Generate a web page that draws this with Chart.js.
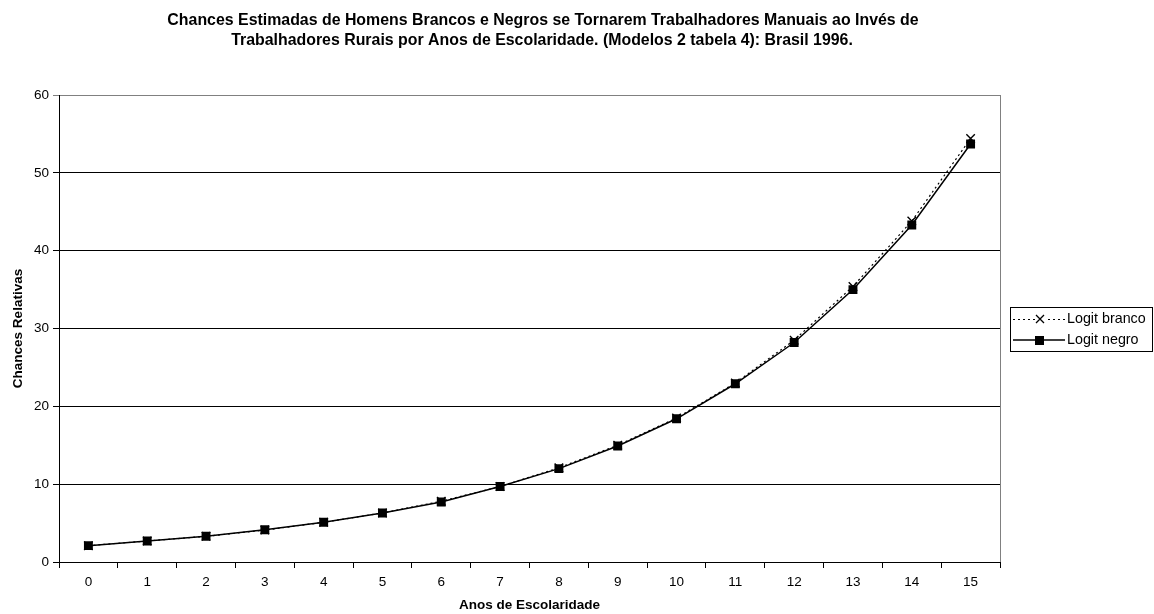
<!DOCTYPE html>
<html>
<head>
<meta charset="utf-8">
<script src="https://cdn.jsdelivr.net/npm/chart.js@4/dist/chart.umd.min.js"></script>
<style>
  html, body { margin: 0; padding: 0; background: #fff; }
  #wrap { width: 1154px; height: 614px; }
</style>
</head>
<body>
<div id="wrap"><canvas id="chart1" width="1154" height="614"></canvas></div>
<script>
// data
var anos = ['0','1','2','3','4','5','6','7','8','9','10','11','12','13','14','15'];
var logitBranco = [2.1, 2.7, 3.3, 4.1, 5.1, 6.3, 7.8, 9.7, 12.1, 15.0, 18.5, 23.0, 28.5, 35.4, 43.8, 54.4];
var logitNegro  = [2.1, 2.7, 3.3, 4.15, 5.1, 6.3, 7.7, 9.7, 12.0, 14.9, 18.4, 22.9, 28.2, 35.0, 43.3, 53.7];
var titulo = ['Chances Estimadas de Homens Brancos e Negros se Tornarem Trabalhadores Manuais ao Invés de',
              'Trabalhadores Rurais por Anos de Escolaridade. (Modelos 2 tabela 4): Brasil 1996.'];
var fonte = "'Liberation Sans', Arial, sans-serif";

Chart.defaults.font.family = fonte;
Chart.defaults.color = '#000';

// title, right border of plot area and boxed legend
var extras = {
    id: 'extras',
    afterDraw: function(chart) {
        var ctx = chart.ctx;
        var a = chart.chartArea;
        ctx.save();
        ctx.strokeStyle = '#808080';
        ctx.lineWidth = 1;
        ctx.beginPath();
        ctx.moveTo(Math.round(a.right) + 0.5, a.top);
        ctx.lineTo(Math.round(a.right) + 0.5, a.bottom);
        ctx.stroke();

        ctx.fillStyle = '#000';
        ctx.font = 'bold 15.9px ' + fonte;
        ctx.textAlign = 'center';
        ctx.textBaseline = 'middle';
        ctx.fillText(titulo[0], 543, 21);
        ctx.fillText(titulo[1], 542, 41);

        // legend
        ctx.strokeStyle = '#000';
        ctx.strokeRect(1010.5, 307.5, 142, 44);
        ctx.font = '14.3px ' + fonte;
        ctx.textAlign = 'left';
        var y1 = 319, y2 = 340;
        ctx.setLineDash([2, 3]);
        ctx.beginPath();
        ctx.moveTo(1013, y1 + 0.5); ctx.lineTo(1065, y1 + 0.5);
        ctx.stroke();
        ctx.setLineDash([]);
        ctx.fillStyle = '#fff';
        ctx.fillRect(1035, y1 - 5, 10, 10);
        ctx.lineWidth = 1.3;
        ctx.beginPath();
        ctx.moveTo(1036, y1 - 4); ctx.lineTo(1044, y1 + 4);
        ctx.moveTo(1044, y1 - 4); ctx.lineTo(1036, y1 + 4);
        ctx.stroke();
        ctx.lineWidth = 1.5;
        ctx.beginPath();
        ctx.moveTo(1013, y2); ctx.lineTo(1065, y2);
        ctx.stroke();
        ctx.fillStyle = '#000';
        ctx.fillRect(1035, y2 - 4, 9, 9);
        ctx.fillText('Logit branco', 1067, y1);
        ctx.fillText('Logit negro', 1067, y2);
        ctx.restore();
    }
};

new Chart(document.getElementById('chart1'), {
    type: 'line',
    data: {
        labels: anos,
        datasets: [{
            label: 'Logit branco',
            data: logitBranco,
            borderColor: '#000',
            backgroundColor: '#000',
            borderWidth: 1.2,
            borderDash: [2, 3],
            pointStyle: 'crossRot',
            pointRadius: 6,
            pointBorderWidth: 1.4,
            tension: 0,
            fill: false
        }, {
            label: 'Logit negro',
            data: logitNegro,
            borderColor: '#000',
            backgroundColor: '#000',
            borderWidth: 1.5,
            pointStyle: 'rect',
            pointRadius: 6.3,
            pointBorderWidth: 0,
            tension: 0,
            fill: false
        }]
    },
    options: {
        responsive: false,
        animation: false,
        layout: { padding: { top: 95, right: 154, left: 0, bottom: 0 } },
        plugins: {
            legend: { display: false },
            tooltip: { enabled: false }
        },
        scales: {
            x: {
                offset: true,
                grid: { display: true, offset: true, drawOnChartArea: false, color: '#000', tickLength: 6 },
                border: { display: true, color: '#000', width: 1 },
                ticks: { font: { size: 13.5 }, padding: 6, maxRotation: 0 },
                title: { display: true, text: 'Anos de Escolaridade', font: { size: 13.5, weight: 'bold' }, padding: { top: 4, bottom: 1 } },
                afterFit: function(s) { s.height = 52; }
            },
            y: {
                min: 0,
                max: 60,
                ticks: { stepSize: 10, font: { size: 13.5 }, padding: 4 },
                grid: {
                    color: function(c) { return c.tick && c.tick.value === 60 ? '#808080' : '#000'; },
                    tickLength: 6
                },
                border: { display: true, color: '#000', width: 1 },
                title: { display: true, text: 'Chances Relativas', font: { size: 13.5, weight: 'bold' }, padding: { top: 10, bottom: 4 } },
                afterFit: function(s) { s.width = 59; }
            }
        }
    },
    plugins: [extras]
});
</script>
</body>
</html>
